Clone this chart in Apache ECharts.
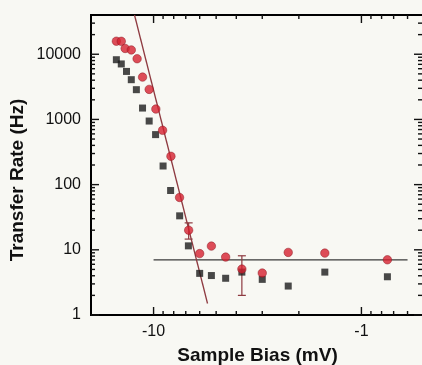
<!DOCTYPE html>
<html><head><meta charset="utf-8">
<script src="https://cdn.jsdelivr.net/npm/echarts@6/dist/echarts.min.js"></script>
<style>html,body{margin:0;padding:0;background:#f8f8f3}#c{width:422px;height:365px}</style>
</head><body><div id="c"></div>
<script>
// |Sample bias| in mV (axis shows negative values, log scale, reversed)
const biasRed = [15.1,14.3,13.7,12.8,12.0,11.3,10.5,9.75,9.05,8.25,7.5,6.78,6.0,5.27,4.5,3.76,3.0,2.25,1.5,0.75];
const rateRed = [15850,15800,12270,11640,8530,4460,2890,1443,681,272,63.5,20.0,8.75,11.4,7.73,5.06,4.4,9.12,8.9,7.03];
const biasBlack = [15.1,14.3,13.5,12.8,12.1,11.3,10.5,9.78,9.0,8.28,7.49,6.8,6.0,5.27,4.5,3.76,3.0,2.25,1.5,0.75];
const rateBlack = [8240,7100,5450,4070,2860,1495,945,585,193,81.2,33.2,11.5,4.35,4.03,3.66,4.55,3.52,2.78,4.55,3.86];
const errBias = [6.78,3.76];
const errLow = [14.6,2.0];
const errHigh = [25.9,8.1];
const fitBias = [12.35,5.5];
const fitRate = [40000,1.5];
const baseBias = [10,0.6];
const baseRate = [7.0,7.0];
const xMajor = [10,1];
const xMinor = [9,8,7,6,5,4,3,2,0.9,0.8,0.7,0.6];
const yMajor = [1,10,100,1000,10000];
const yMinor = [2,3,4,5,6,7,8,9,20,30,40,50,60,70,80,90,200,300,400,500,600,700,800,900,2000,3000,4000,5000,6000,7000,8000,9000,20000,30000];
const xLabels = {10:'-10',1:'-1'};
const yLabels = {1:'1',10:'10',100:'100',1000:'1000',10000:'10000'};

const FONT = '"Liberation Sans", Arial, Helvetica, sans-serif';
const chart = echarts.init(document.getElementById('c'));
const zip = (a,b) => a.map((v,i)=>[v,b[i]]);
const findLabel = (map, v) => { for (const k in map) { if (Math.abs(Math.log10(v) - Math.log10(+k)) < 1e-6) return map[k]; } return ''; };

const tickStyle = {stroke:'#111', lineWidth:1.4};
const MAJ = 8, MIN = 4;

option = {
  backgroundColor: '#f8f8f3',
  animation: false,
  grid: {left:91, right:-2, top:15, bottom:50, show:true, borderColor:'#000', borderWidth:2, backgroundColor:'transparent', outerBoundsMode:'none', containLabel:false},
  xAxis: {
    type:'log', logBase:10, min:0.5, max:20, inverse:true,
    axisLine:{show:false}, axisTick:{show:false}, splitLine:{show:false},
    axisLabel:{formatter:v=>findLabel(xLabels,v), fontSize:16, color:'#111', margin:9, fontFamily:FONT},
    name:'Sample Bias (mV)', nameLocation:'middle', nameGap:31,
    nameTextStyle:{fontSize:19, fontWeight:'bold', color:'#111', fontFamily:FONT}
  },
  yAxis: {
    type:'log', logBase:10, min:1, max:40000,
    axisLine:{show:false}, axisTick:{show:false}, splitLine:{show:false},
    axisLabel:{formatter:v=>findLabel(yLabels,v), fontSize:16, color:'#111', margin:10, fontFamily:FONT}
  },
  graphic: [{
    type:'text', x:18, y:180, rotation:Math.PI/2,
    style:{text:'Transfer Rate (Hz)', font:'bold 19px '+FONT, fill:'#111', align:'center', verticalAlign:'middle'}
  }],
  series: [
    { // x ticks (bottom + top)
      type:'custom', clip:false, silent:true, z:5,
      data: xMajor.map(v=>[v,10,MAJ]).concat(xMinor.map(v=>[v,10,MIN])),
      encode:{x:0,y:1},
      renderItem:(params, api)=>{
        const cs = params.coordSys; const p = api.coord([api.value(0),10]); const L = api.value(2);
        return {type:'group', children:[
          {type:'line', shape:{x1:p[0],y1:cs.y+cs.height,x2:p[0],y2:cs.y+cs.height-L}, style:tickStyle},
          {type:'line', shape:{x1:p[0],y1:cs.y,x2:p[0],y2:cs.y+L}, style:tickStyle}
        ]};
      }
    },
    { // y ticks (left + right)
      type:'custom', clip:false, silent:true, z:5,
      data: yMajor.map(v=>[1,v,MAJ]).concat(yMinor.map(v=>[1,v,MIN])),
      encode:{x:0,y:1},
      renderItem:(params, api)=>{
        const cs = params.coordSys; const p = api.coord([1,api.value(1)]); const L = api.value(2);
        return {type:'group', children:[
          {type:'line', shape:{x1:cs.x,y1:p[1],x2:cs.x+L,y2:p[1]}, style:tickStyle},
          {type:'line', shape:{x1:cs.x+cs.width,y1:p[1],x2:cs.x+cs.width-L-2,y2:p[1]}, style:tickStyle}
        ]};
      }
    },
    { type:'line', data:zip(baseBias,baseRate), showSymbol:false, lineStyle:{color:'#3a3a3a', width:1.2}, z:2, silent:true },
    { type:'line', data:zip(fitBias,fitRate), showSymbol:false, lineStyle:{color:'#8e3a40', width:1.3}, z:2, silent:true },
    { // error bars
      type:'custom', z:3, silent:true,
      data: errBias.map((v,i)=>[v,errLow[i],errHigh[i]]),
      encode:{x:0,y:[1,2]},
      renderItem:(params, api)=>{
        const lo = api.coord([api.value(0),api.value(1)]); const hi = api.coord([api.value(0),api.value(2)]);
        const w = 4; const st = {stroke:'#8e3a40', lineWidth:1.2};
        return {type:'group', children:[
          {type:'line', shape:{x1:lo[0],y1:lo[1],x2:hi[0],y2:hi[1]}, style:st},
          {type:'line', shape:{x1:lo[0]-w,y1:lo[1],x2:lo[0]+w,y2:lo[1]}, style:st},
          {type:'line', shape:{x1:hi[0]-w,y1:hi[1],x2:hi[0]+w,y2:hi[1]}, style:st}
        ]};
      }
    },
    { type:'scatter', data:zip(biasBlack,rateBlack), symbol:'rect', symbolSize:7, itemStyle:{color:'#1b1b1b'}, z:4 },
    { type:'scatter', data:zip(biasRed,rateRed), symbol:'circle', symbolSize:8.5, itemStyle:{color:'#d6202f', borderColor:'#8a1a22', borderWidth:0.6}, z:4 }
  ]
};
chart.setOption(option);
</script></body></html>
